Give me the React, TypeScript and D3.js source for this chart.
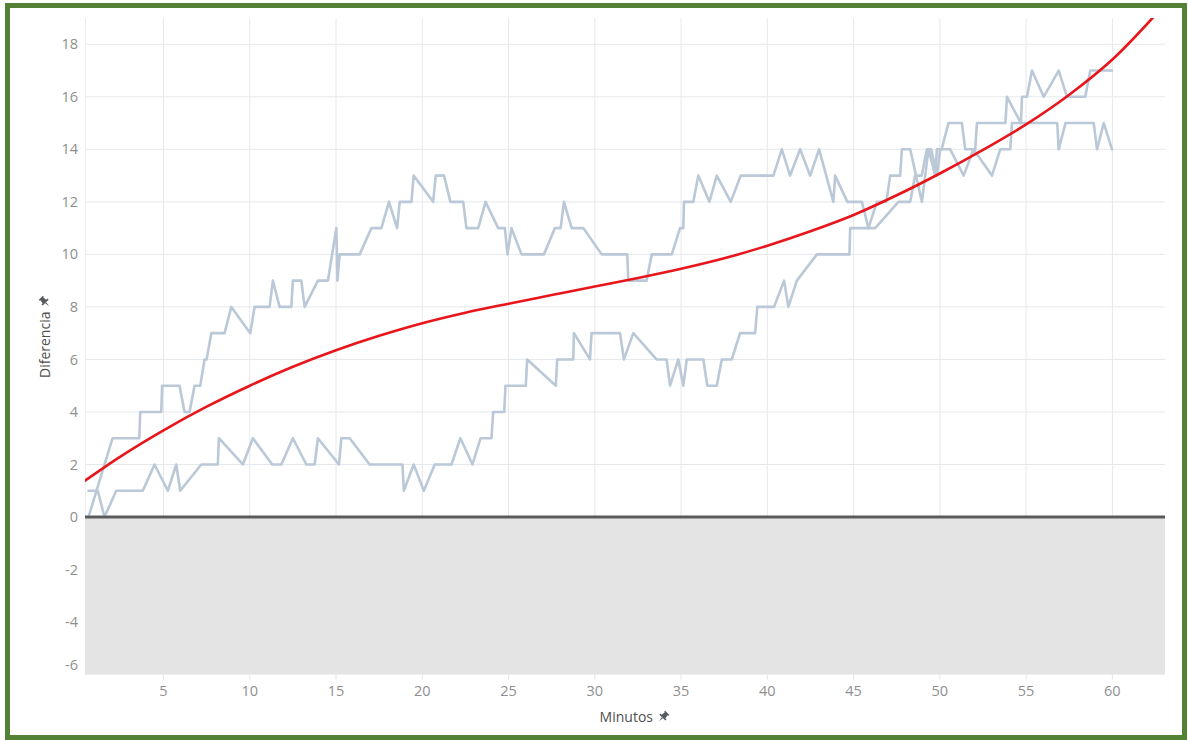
import React from 'react';
import * as d3 from 'd3';

// Two running score-difference traces, [minute, difference]
const upperTrace: [number, number][] = [
  [0.65, 0], [2.05, 3], [3.6, 3], [3.65, 4], [4.87, 4], [4.92, 5], [5.93, 5], [6.22, 4],
  [6.51, 4], [6.8, 5], [7.13, 5], [7.38, 6], [7.5, 6], [7.77, 7], [8.54, 7], [8.93, 8],
  [10.03, 7], [10.28, 8], [11.15, 8], [11.34, 9], [11.73, 8], [12.41, 8], [12.5, 9], [12.99, 9],
  [13.18, 8], [13.95, 9], [14.53, 9], [15.02, 11], [15.08, 9], [15.21, 10], [16.37, 10], [17.05, 11],
  [17.63, 11], [18.07, 12], [18.54, 11], [18.69, 12], [19.37, 12], [19.5, 13], [20.63, 12], [20.78, 13],
  [21.26, 13], [21.63, 12], [22.37, 12], [22.56, 11], [23.24, 11], [23.67, 12], [24.4, 11], [24.79, 11],
  [24.94, 10], [25.17, 11], [25.75, 10], [27.05, 10], [27.69, 11], [28.02, 11], [28.21, 12], [28.66, 11],
  [29.33, 11], [30.4, 10], [31.88, 10], [31.94, 9], [33.0, 9], [33.3, 10], [34.46, 10], [34.94, 11],
  [35.13, 11], [35.17, 12], [35.71, 12], [36.0, 13], [36.64, 12], [37.07, 13], [37.88, 12], [38.46, 13],
  [40.35, 13], [40.84, 14], [41.32, 13], [41.9, 14], [42.48, 13], [43.0, 14], [43.83, 12], [43.93, 13],
  [44.64, 12], [45.48, 12], [45.86, 11], [46.35, 12], [46.9, 12], [47.12, 13], [47.7, 13], [47.8, 14],
  [48.28, 14], [48.96, 12], [49.34, 14], [49.73, 13], [49.83, 14], [50.1, 14], [50.5, 15], [51.28, 15],
  [51.47, 14], [52.05, 14], [52.15, 15], [53.8, 15], [53.89, 16], [54.7, 15], [54.76, 16], [55.05, 16],
  [55.34, 17], [56.02, 16], [56.89, 17], [57.37, 16], [58.43, 16], [58.72, 17], [59.98, 17],
];

const lowerTrace: [number, number][] = [
  [0.65, 1], [1.19, 1], [1.58, 0], [2.26, 1], [3.8, 1], [4.48, 2], [5.25, 1], [5.74, 2],
  [5.97, 1], [7.19, 2], [8.15, 2], [8.21, 3], [9.6, 2], [10.18, 3], [11.3, 2], [11.83, 2],
  [12.5, 3], [13.28, 2], [13.76, 2], [13.95, 3], [15.17, 2], [15.31, 3], [15.79, 3], [16.95, 2],
  [18.85, 2], [18.93, 1], [19.5, 2], [20.09, 1], [20.72, 2], [21.69, 2], [22.21, 3], [22.91, 2],
  [23.38, 3], [24.01, 3], [24.11, 4], [24.75, 4], [24.82, 5], [26.0, 5], [26.08, 6], [27.74, 5],
  [27.82, 6], [28.75, 6], [28.79, 7], [29.72, 6], [29.81, 7], [31.46, 7], [31.69, 6], [32.23, 7],
  [33.58, 6], [34.16, 6], [34.36, 5], [34.84, 6], [35.13, 5], [35.33, 6], [36.29, 6], [36.52, 5],
  [37.07, 5], [37.36, 6], [37.94, 6], [38.42, 7], [39.29, 7], [39.42, 8], [40.39, 8], [40.97, 9],
  [41.22, 8], [41.71, 9], [42.87, 10], [44.76, 10], [44.8, 11], [46.25, 11], [47.6, 12], [48.28, 12],
  [48.57, 13], [48.95, 13], [49.25, 14], [49.5, 14], [49.83, 13], [50.02, 14], [50.6, 14], [51.38, 13],
  [51.95, 14], [53.02, 13], [53.5, 14], [54.08, 14], [54.18, 15], [56.8, 15], [56.89, 14], [57.28, 15],
  [58.92, 15], [59.11, 14], [59.5, 15], [59.98, 14],
];

// Polynomial trend line, sampled along the minutes axis
const trendMinutes = [0.42, 2.5, 5, 7.5, 10, 12.5, 15, 17.5, 20, 22.5, 25, 27.5, 30, 32.5, 35, 37.5, 40, 42.5, 45, 47.5, 50, 52.5, 55, 57.5, 60, 62.3, 63.05];
const trendValues = [1.37, 2.3, 3.3, 4.2, 5.0, 5.72, 6.35, 6.9, 7.38, 7.78, 8.12, 8.45, 8.78, 9.1, 9.45, 9.85, 10.33, 10.88, 11.5, 12.25, 13.08, 13.98, 14.95, 16.08, 17.42, 18.98, 19.53];

const xTicks = [5, 10, 15, 20, 25, 30, 35, 40, 45, 50, 55, 60];
const yTicks = [-6, -4, -2, 0, 2, 4, 6, 8, 10, 12, 14, 16, 18];

const xTitle = 'Minutos';
const yTitle = 'Diferencia';

const FONT = '"Open Sans", "DejaVu Sans", sans-serif';

function Pin({ x, y, rotate = 45 }: { x: number; y: number; rotate?: number }) {
  return (
    <g transform={`translate(${x},${y}) rotate(${rotate})`} fill="#555b61">
      <path d="M-3,-6 H3 V-4.6 H2 L2.5,-0.8 H4.2 V0.9 H-4.2 V-0.8 H-2.5 L-2,-4.6 H-3 Z" />
      <path d="M-0.7,0.9 H0.7 L0,6 Z" />
    </g>
  );
}

export default function App() {
  const W = 1188;
  const H = 740;
  const left = 85;
  const right = 1165;
  const top = 18;
  const bottom = 674.6;

  const x = d3.scaleLinear().domain([0.45, 63.05]).range([left, right]);
  const y = d3.scaleLinear().domain([-6, 19]).range([bottom, top]);

  const traceLine = d3
    .line<[number, number]>()
    .x((d) => x(d[0]))
    .y((d) => y(d[1]));

  const trendPoints: [number, number][] = trendMinutes.map((m, i) => [m, trendValues[i]]);
  const trendLine = d3
    .line<[number, number]>()
    .x((d) => x(d[0]))
    .y((d) => y(d[1]))
    .curve(d3.curveMonotoneX);

  const y0 = y(0);

  return (
    <div style={{ position: 'fixed', left: 0, top: 0 }}>
      <svg width={W} height={H} style={{ display: 'block', background: '#ffffff' }}>
        <defs>
          <clipPath id="plot-clip">
            <rect x={left} y={top} width={right - left} height={bottom - top} />
          </clipPath>
        </defs>

        {/* gridlines */}
        <g stroke="#e6e8eb" strokeWidth={1}>
          {yTicks.filter((t) => t > 0).map((t) => (
            <line key={`gy${t}`} x1={left} x2={right} y1={y(t)} y2={y(t)} />
          ))}
          {xTicks.map((t) => (
            <line key={`gx${t}`} x1={x(t)} x2={x(t)} y1={top} y2={y0} />
          ))}
          <line x1={left + 0.5} x2={left + 0.5} y1={top} y2={y0} stroke="#eeeeee" />
        </g>

        {/* negative band */}
        <rect x={left} y={y0} width={right - left} height={bottom - y0} fill="#e4e4e4" />

        {/* axis ticks below the plot */}
        <g stroke="#e4e4e4" strokeWidth={1}>
          {xTicks.map((t) => (
            <line key={`tx${t}`} x1={x(t)} x2={x(t)} y1={bottom} y2={bottom + 5} />
          ))}
        </g>

        <g clipPath="url(#plot-clip)" fill="none" strokeLinejoin="round" strokeLinecap="round">
          <path d={traceLine(lowerTrace) || ''} stroke="#bac8d7" strokeWidth={2.6} />
          <path d={traceLine(upperTrace) || ''} stroke="#bac8d7" strokeWidth={2.6} />
          <path d={trendLine(trendPoints) || ''} stroke="#e8161b" strokeWidth={2.6} />
        </g>

        {/* zero line */}
        <line x1={left} x2={right} y1={y0} y2={y0} stroke="#5b5b5b" strokeWidth={2.8} />

        {/* y tick labels */}
        <g fontFamily={FONT} fontSize={14.5} fill="#8f8f8f" textAnchor="end">
          {yTicks.map((t) => (
            <text key={`ly${t}`} x={78} y={Math.min(y(t), bottom - 10)} dy="0.35em">
              {t}
            </text>
          ))}
        </g>

        {/* x tick labels */}
        <g fontFamily={FONT} fontSize={14.5} fill="#8f8f8f" textAnchor="middle">
          {xTicks.map((t) => (
            <text key={`lx${t}`} x={x(t)} y={691} dy="0.35em">
              {t}
            </text>
          ))}
        </g>

        {/* axis titles */}
        <text x={653} y={717} dy="0.35em" textAnchor="end" fontFamily={FONT} fontSize={14} fill="#4f4f4f">
          {xTitle}
        </text>
        <Pin x={663} y={717} />

        <text
          transform={`translate(45,378) rotate(-90)`}
          dy="0.35em"
          textAnchor="start"
          fontFamily={FONT}
          fontSize={14}
          fill="#4f4f4f"
        >
          {yTitle}
        </text>
        <Pin x={45} y={302} rotate={-45} />

        {/* frame */}
        <rect x={7.5} y={5.5} width={1177} height={732} fill="none" stroke="#548235" strokeWidth={5} />
      </svg>
    </div>
  );
}
